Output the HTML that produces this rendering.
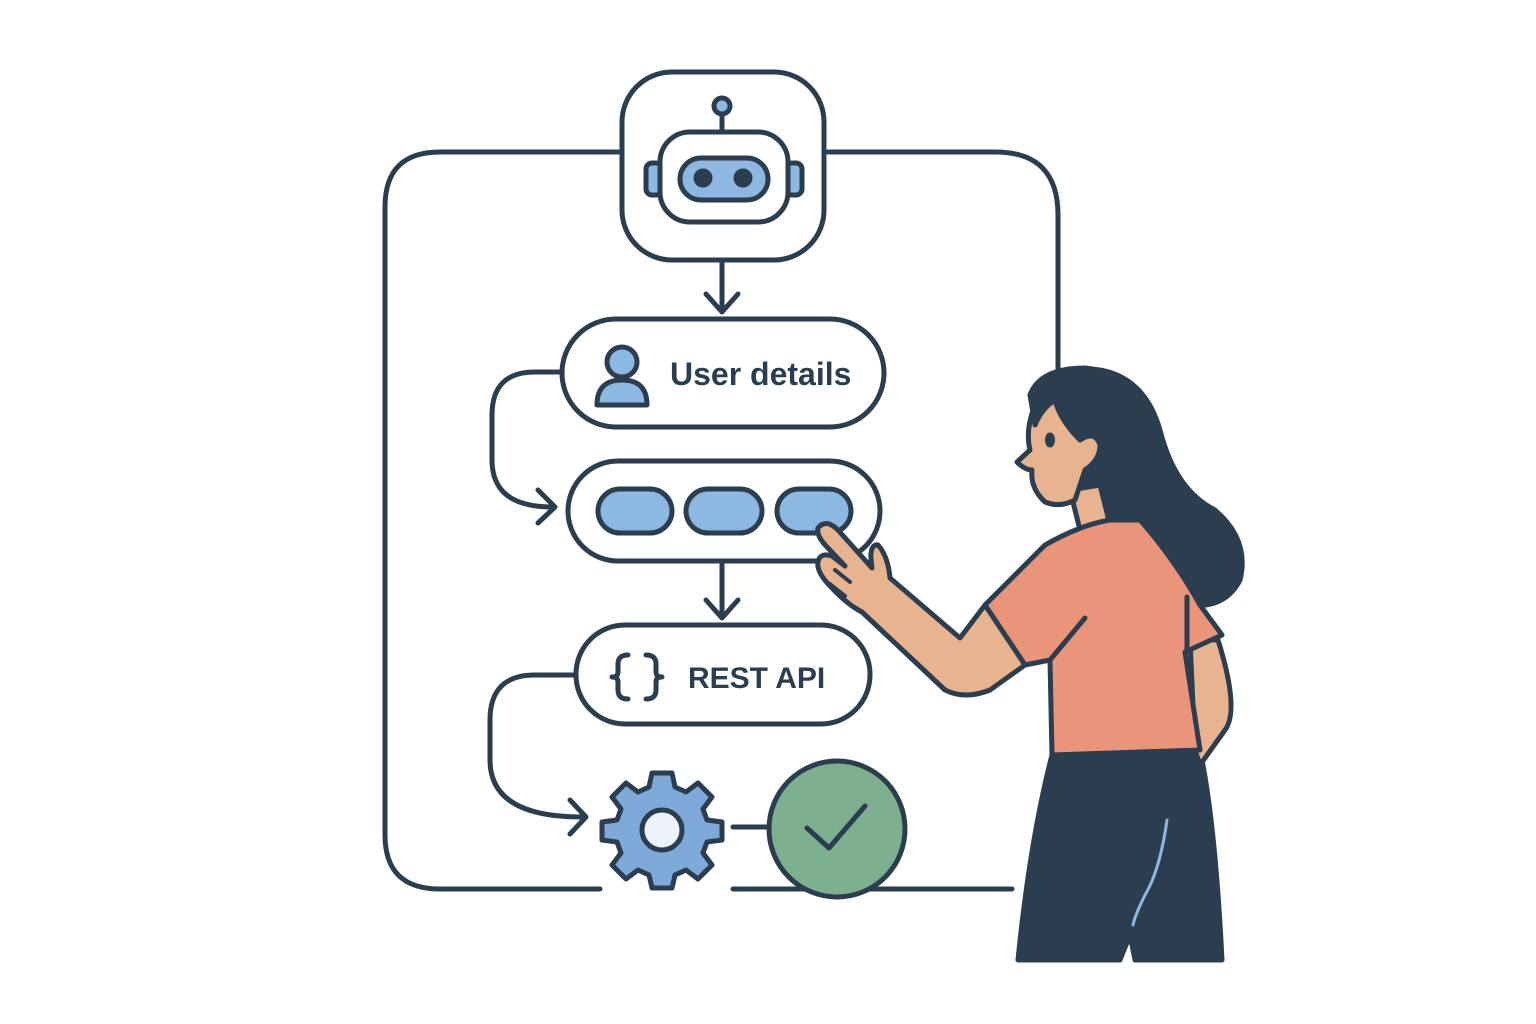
<!DOCTYPE html>
<html><head><meta charset="utf-8"><style>html,body{margin:0;padding:0;background:#fff}svg{display:block}</style></head>
<body>
<svg width="1536" height="1024" viewBox="0 0 1536 1024" xmlns="http://www.w3.org/2000/svg">
<g fill="none" stroke="#2b3e50" stroke-width="5" stroke-linecap="round" stroke-linejoin="round">
<path d="M620 152 H440 Q385 152 385 207 V835 Q385 889 440 889 H600"/>
<path d="M828 152 H995 Q1058 152 1058 215 V370"/>
<path d="M733 889 H1012"/>
<rect x="622" y="72" width="202" height="188" rx="50" fill="#fff"/>
<line x1="722" y1="114" x2="722" y2="132"/>
<circle cx="722" cy="106" r="8" fill="#8db8e2"/>
<rect x="646" y="163" width="16" height="32" rx="6" fill="#8db8e2"/>
<rect x="786" y="163" width="16" height="32" rx="6" fill="#8db8e2"/>
<rect x="660" y="132" width="128" height="90" rx="30" fill="#fff"/>
<rect x="680" y="158" width="88" height="42" rx="21" fill="#8db8e2"/>
<circle cx="703" cy="178" r="7" fill="#2b3e50"/>
<circle cx="743" cy="178" r="7" fill="#2b3e50"/>
<path d="M722 262 V312 M706 294 L722 312 L738 294"/>
<rect x="562" y="319" width="322" height="108" rx="54" fill="#fff"/>
<circle cx="622" cy="362" r="15" fill="#8db8e2"/>
<path d="M597 405 Q597 380 622 380 Q647 380 647 405 Z" fill="#8db8e2"/>
<path d="M562 372 H535 Q492 372 492 415 V460 Q492 507 552 507 M538 490 L555 507 L538 523"/>
<rect x="568" y="461" width="312" height="100" rx="50" fill="#fff"/>
<rect x="598" y="489" width="74" height="44" rx="22" fill="#8db8e2"/>
<rect x="686" y="489" width="76" height="44" rx="22" fill="#8db8e2"/>
<rect x="777" y="489" width="74" height="44" rx="22" fill="#8db8e2"/>
<path d="M722 563 V618 M706 600 L722 618 L738 600"/>
<rect x="576" y="625" width="294" height="99" rx="49" fill="#fff"/>
<path d="M576 675 H535 Q490 675 490 720 V760 Q490 817 582 817 M570 800 L586 817 L570 834"/>
<g transform="translate(662 830)" fill="#7fa9d8">
<path d="M-10 -57 H10 L13 -43 L24 -38 L36 -47 L50 -33 L41 -21 L45 -10 L60 -8 V10 L45 12 L41 23 L50 35 L36 49 L24 40 L13 45 L10 58 H-10 L-13 45 L-24 40 L-36 49 L-50 35 L-41 23 L-45 12 L-60 10 V-8 L-45 -10 L-41 -21 L-50 -33 L-36 -47 L-24 -38 L-13 -43 Z"/>
<circle r="20" fill="#eef3fb"/>
</g>
<line x1="733" y1="827" x2="768" y2="827"/>
<circle cx="837" cy="829" r="68" fill="#7db08f"/>
<path d="M807 828 L829 848 L865 806"/>
<!-- braces -->
<path d="M628 655 Q618 655 618 664 V672 Q618 677 612 677 Q618 677 618 682 V690 Q618 699 628 699"/>
<path d="M646 655 Q656 655 656 664 V672 Q656 677 662 677 Q656 677 656 682 V690 Q656 699 646 699"/>
</g>
<g font-family="Liberation Sans, sans-serif" font-weight="bold" fill="#2b3e50">
<text x="670" y="385" font-size="32">User details</text>
<text x="688" y="688" font-size="30">REST API</text>
</g>
<g stroke="#2b3e50" stroke-width="5" stroke-linejoin="round" stroke-linecap="round">
<path d="M1030 395 Q1060 365 1100 370 Q1145 378 1160 430 Q1175 490 1215 510 Q1250 540 1240 580 Q1225 610 1185 605 Q1140 600 1125 560 Q1110 520 1080 500 Z" fill="#2b3e50"/>
<path d="M1052 755 L1200 750 Q1215 820 1222 960 H1135 L1130 935 L1120 960 H1018 Q1030 840 1052 755 Z" fill="#2b3e50"/>
<path d="M1167 820 Q1160 870 1145 895 Q1135 915 1133 925" stroke="#8db8e2" stroke-width="3" fill="none"/>
<path d="M1190 640 L1218 640 Q1240 710 1225 730 L1200 765 L1195 750 Z" fill="#e8b48f"/>
<path d="M1070 490 L1080 530 L1110 525 L1100 485 Z" fill="#e8b48f"/>
<path d="M1045 545 Q1080 525 1110 520 L1140 520 Q1175 560 1200 605 L1222 635 L1185 652 L1200 750 L1052 755 L1050 660 L1025 665 L985 605 Z" fill="#ea9479"/>
<path d="M1085 618 L1050 660" fill="none"/>
<path d="M1187 597 V650" fill="none"/>
<!-- arm + hand -->
<path d="M985 605 L960 638 L890 578 Q888 556 878 545 Q870 544 871 560 L872 568 L838 530 Q826 518 818 528 Q816 536 828 548 L845 566 L832 556 Q820 552 818 562 Q816 572 832 588 Q848 605 862 612 L945 690 Q965 700 990 690 L1025 665 Z" fill="#e8b48f"/>
<path d="M835 570 L850 582 M830 584 L845 596" fill="none" stroke-width="4"/>
<path d="M1035 405 Q1025 430 1030 450 L1017 462 Q1025 470 1032 470 Q1030 488 1045 502 Q1060 508 1075 500 L1085 470 Q1100 460 1100 445 Q1095 430 1080 440 Q1060 420 1055 400 Z" fill="#e8b48f"/>
<ellipse cx="1050" cy="440" rx="2.5" ry="5" fill="#2b3e50"/>
<path d="M1030 395 Q1040 368 1085 368 Q1130 372 1155 420 L1125 455 Q1105 440 1090 430 Q1070 420 1055 400 Q1042 408 1035 425 Z" fill="#2b3e50"/>
</g>
</svg>
</body></html>
